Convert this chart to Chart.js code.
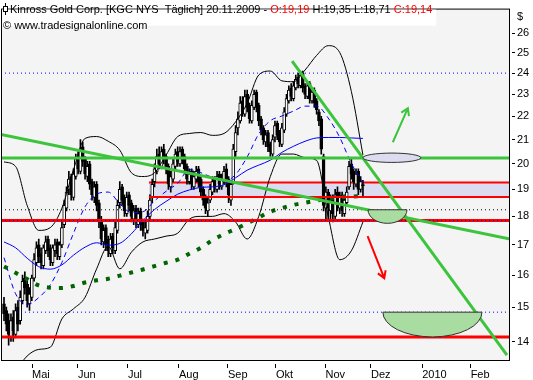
<!DOCTYPE html>
<html lang="de">
<head>
<meta charset="UTF-8">
<title>Kinross Gold Corp.</title>
<script src="https://cdn.jsdelivr.net/npm/chart.js"></script>
<style>
  body { margin: 0; background: #ffffff; }
  canvas { display: block; }
</style>
</head>
<body>
<canvas id="chart" width="533" height="380"></canvas>
<script>
// daily candles, mid April .. 20.11.2009
const opens = [
  15.1,14.9,14.6,14.1,14.7,14.2,15.0,14.6,15.2,15.9,
  15.7,15.1,15.3,15.9,16.4,17.0,16.7,16.3,16.8,17.2,
  16.9,16.4,16.8,17.1,16.6,17.0,17.7,18.3,19.0,19.5,
  18.7,19.5,20.3,19.7,20.7,20.2,19.5,20.0,19.3,18.7,
  19.2,18.5,17.9,17.1,17.6,17.2,16.7,17.3,16.8,17.5,
  18.5,19.1,18.7,18.1,18.8,18.5,17.9,18.3,17.7,18.2,
  17.8,17.4,17.5,18.0,18.7,19.3,19.7,20.4,19.9,20.6,
  20.3,19.9,19.1,19.4,19.9,20.5,20.0,20.6,20.3,19.9,
  19.3,19.7,19.1,19.4,19.8,19.4,19.0,18.7,18.2,18.6,
  18.9,19.4,19.0,19.6,19.1,19.3,19.8,19.4,18.6,19.3,
  20.5,21.5,21.8,22.7,22.1,23.0,22.5,21.8,22.4,23.1,
  22.5,21.9,21.5,20.9,21.3,20.8,20.4,21.1,21.7,21.3,
  20.8,21.4,22.1,22.7,23.3,22.8,23.3,23.8,23.4,24.0,
  23.4,22.9,23.5,22.7,23.2,22.7,22.2,21.9,20.3,18.3,
  18.9,18.2,18.7,18.0,18.9,18.3,18.8,18.1,18.5,19.1,
  20.0,19.7,19.2,19.7,19.0,19.19
];
const highs = [
  15.3,15.0,14.8,14.8,14.9,15.1,15.2,15.5,16.0,16.1,
  15.8,15.6,16.0,16.7,17.1,17.2,16.9,17.0,17.3,17.3,
  17.0,17.0,17.2,17.2,17.1,17.8,18.6,19.1,19.7,19.6,
  19.8,20.4,20.5,21.0,20.9,20.3,20.1,20.1,19.4,19.3,
  19.3,18.6,18.0,17.7,17.7,17.3,17.4,17.4,17.8,18.6,
  19.3,19.2,18.8,18.9,18.9,18.6,18.4,18.4,18.3,18.3,
  17.9,17.8,18.2,18.8,19.4,20.0,20.6,20.7,20.7,20.8,
  20.4,20.0,19.7,20.2,20.6,20.7,20.7,20.7,20.4,20.0,
  19.8,19.8,19.7,19.9,19.9,19.5,19.1,18.8,18.7,19.2,
  19.5,19.5,19.7,19.7,19.6,19.9,20.0,19.5,19.3,20.8,
  21.6,22.2,22.9,22.9,23.2,23.2,22.6,22.7,23.2,23.2,
  22.6,22.0,21.6,21.4,21.4,20.9,21.2,21.8,21.8,21.4,
  21.7,22.4,23.0,23.4,23.5,23.6,23.9,24.0,24.1,24.1,
  23.5,23.6,23.6,23.3,23.3,22.8,22.3,22.0,20.4,19.1,
  19.0,18.8,18.8,19.0,19.1,18.9,18.9,18.8,19.1,20.1,
  20.2,19.8,19.8,19.8,19.5,19.35
];
const lows = [
  14.6,14.3,13.9,14.0,14.0,14.1,14.3,14.5,15.1,15.4,
  15.0,14.9,15.2,15.8,16.3,16.4,16.2,16.2,16.7,16.6,
  16.3,16.3,16.6,16.5,16.5,16.9,17.6,18.2,18.8,18.6,
  18.6,19.4,19.6,19.6,19.9,19.4,19.3,19.0,18.6,18.5,
  18.2,17.6,17.0,16.9,16.8,16.6,16.6,16.7,16.7,17.4,
  18.3,18.4,18.0,18.0,18.2,17.8,17.7,17.6,17.6,17.5,
  17.3,17.2,17.4,17.9,18.5,19.1,19.6,19.8,19.8,20.0,
  19.6,19.0,18.9,19.3,19.8,19.9,19.9,20.0,19.6,19.2,
  19.2,19.0,19.0,19.3,19.1,18.7,18.4,18.1,18.0,18.5,
  18.8,18.9,18.9,19.0,19.0,19.2,19.1,18.5,18.4,19.2,
  20.3,21.2,21.7,22.0,22.0,22.2,21.7,21.7,22.3,22.2,
  21.6,21.2,20.8,20.7,20.5,20.3,20.3,20.9,21.0,20.7,
  20.7,21.3,22.0,22.6,22.7,22.7,23.2,23.3,23.3,23.1,
  22.8,22.8,22.6,22.6,22.4,22.1,21.6,20.4,18.2,17.9,
  17.9,17.9,17.8,17.9,18.2,18.1,18.0,18.0,18.4,19.0,
  19.4,19.0,19.1,18.8,18.9,18.71
];
const closes = [
  14.8,14.5,14.2,14.6,14.3,14.9,14.5,15.3,15.8,15.6,
  15.2,15.4,15.9,16.5,16.9,16.6,16.4,16.9,17.1,16.8,
  16.5,16.9,17.0,16.7,17.0,17.6,18.4,18.9,19.4,18.8,
  19.6,20.2,19.8,20.6,20.1,19.6,19.9,19.2,18.8,19.1,
  18.4,17.8,17.2,17.5,17.0,16.8,17.2,16.9,17.6,18.4,
  19.0,18.6,18.2,18.7,18.4,18.0,18.2,17.8,18.1,17.7,
  17.5,17.6,18.0,18.6,19.2,19.8,20.3,20.0,20.5,20.2,
  19.8,19.2,19.5,20.0,20.4,20.1,20.5,20.2,19.8,19.4,
  19.6,19.2,19.5,19.7,19.3,18.9,18.6,18.3,18.5,19.0,
  19.3,19.1,19.5,19.2,19.4,19.7,19.3,18.8,19.2,20.6,
  21.3,21.9,22.6,22.2,22.9,22.4,21.9,22.5,23.0,22.4,
  21.8,21.4,21.0,21.2,20.7,20.5,21.0,21.6,21.2,20.9,
  21.5,22.2,22.8,23.2,22.9,23.4,23.7,23.5,23.9,23.3,
  23.0,23.4,22.8,23.1,22.6,22.3,21.8,20.6,18.4,18.9,
  18.3,18.6,18.1,18.8,18.4,18.7,18.2,18.6,18.9,19.9,
  19.6,19.3,19.6,19.0,19.3,19.14
];

// indicator readings every 5 bars
const indPos = [0,5,10,15,20,25,30,35,40,45,50,55,60,65,70,75,80,85,90,95,100,105,110,115,120,125,130,135,140,145,150,155];
const bandUpper = [20.08,19.9,18.4,17.5,17.6,18.3,19.77,21.05,21.13,20.93,20.56,19.65,19.5,19.65,20.36,21.13,21.26,21.3,21.18,21.26,21.76,22.59,23.91,24.1,23.63,23.59,24.15,24.87,25.36,25.01,23.13,20.36];
const bandLower = [12.9,13.2,13.6,13.78,13.84,14.65,14.95,15.3,16.2,16.95,16.2,16.75,17.1,17.2,17.3,17.4,17.9,18.0,18.0,18.1,17.8,17.2,18.0,19.5,20.4,20.4,20.25,20.14,18.0,16.5,16.8,17.8];
const ma20 = [16.57,15.41,15.08,15.29,15.69,16.41,17.4,18.35,18.82,18.9,18.46,18.14,18.17,18.57,18.93,19.24,19.77,19.65,19.46,19.31,19.58,20.28,21.24,21.81,22.02,22.24,22.46,22.46,21.93,21.09,20.02,19.27];
const ma50 = [17.1,16.9,16.55,16.27,16.19,16.33,16.65,16.92,17.07,16.99,17.05,17.38,17.85,18.25,18.55,18.82,18.98,19.08,19.1,19.18,19.45,19.75,19.95,20.15,20.47,20.72,20.93,21.07,21.09,21.09,21.07,21.05];
const ma200 = [16.28,16.07,15.87,15.67,15.6,15.59,15.65,15.76,15.83,15.88,15.98,16.08,16.18,16.29,16.4,16.5,16.7,16.9,17.16,17.37,17.55,17.75,17.96,18.17,18.3,18.42,18.5,18.58,18.65,18.7,18.73,18.75];

// axes
const monthPos = [12.1, 31.95, 53.5, 75.55, 96.7, 117.45, 138.8, 158.45, 180.6, 201.5];
const monthLabels = ["Mai", "Jun", "Jul", "Aug", "Sep", "Okt", "Nov", "Dez", "2010", "Feb"];
const priceTicks = [14, 15, 16, 17, 18, 19, 20, 21, 22, 23, 24, 25, 26];
const X_MIN = -1.3, X_MAX = 218.5;

// drawn analysis
const supportLines = [17.85, 14.13];
const boxTop = 19.27, boxBottom = 18.71, boxStart = 62.6;
const resistance = 20.24;
const dottedBlack = 18.24;
const dottedBlue = [[-1.3, 24.0], [5.6, 14.85]];
const longTrend = [[-1.3, 21.22], [218.5, 17.2]];
const steepTrend = [[124.4, 24.58], [217.2, 13.62]];
const zones = [
  { from: 155.0, to: 180.0, top: 20.44, bottom: 20.06, half: false, fill: "#dcdcf0" },
  { from: 157.2, to: 174.0, top: 18.24, bottom: 17.75, half: true, fill: "#a8dca0" },
  { from: 163.6, to: 206.4, top: 14.85, bottom: 14.13, half: true, fill: "#a8dca0" },
];
const arrows = [
  { from: [167.9, 20.89], to: [174.4, 22.37], color: "#3cc43c" },
  { from: [157.0, 17.3], to: [164.2, 15.9], color: "#ff0000" },
];

const GREEN = "#3cc43c";
const RED = "#ff0000";

const idx = closes.map((c, i) => i);
const hline = (v, from) => [{ x: from, y: v }, { x: X_MAX, y: v }];
const series = (vals) => indPos.map((p, i) => ({ x: p, y: vals[i] }));
const seg = (pts) => pts.map((p) => ({ x: p[0], y: p[1] }));

const lineBase = { type: "line", pointRadius: 0, borderWidth: 1, fill: false };

const decor = {
  id: "decor",
  beforeDraw(chart) {
    const { ctx, chartArea: { left, top, right, bottom } } = chart;
    ctx.save();
    ctx.fillStyle = "#ffffff";
    ctx.fillRect(0, 0, chart.width, chart.height);
    ctx.fillStyle = "#f4f4f4";
    ctx.fillRect(left, top, right - left, bottom - top);
    ctx.restore();
  },
  afterDatasetsDraw(chart) {
    const { ctx, chartArea: a, scales: { x, y } } = chart;
    ctx.save();
    ctx.beginPath();
    ctx.rect(a.left, a.top, a.right - a.left, a.bottom - a.top);
    ctx.clip();
    zones.forEach((z) => {
      const x1 = x.getPixelForValue(z.from);
      const x2 = x.getPixelForValue(z.to);
      const yt = y.getPixelForValue(z.top);
      const yb = y.getPixelForValue(z.bottom);
      ctx.beginPath();
      if (z.half) {
        ctx.ellipse((x1 + x2) / 2, yt, (x2 - x1) / 2, yb - yt, 0, 0, Math.PI);
        ctx.closePath();
      } else {
        ctx.ellipse((x1 + x2) / 2, (yt + yb) / 2, (x2 - x1) / 2, (yb - yt) / 2, 0, 0, Math.PI * 2);
      }
      ctx.fillStyle = z.fill;
      ctx.fill();
      ctx.strokeStyle = "#333333";
      ctx.lineWidth = 1;
      ctx.stroke();
    });
    arrows.forEach((ar) => {
      const x0 = x.getPixelForValue(ar.from[0]), y0 = y.getPixelForValue(ar.from[1]);
      const x1 = x.getPixelForValue(ar.to[0]), y1 = y.getPixelForValue(ar.to[1]);
      const ang = Math.atan2(y1 - y0, x1 - x0);
      ctx.strokeStyle = ar.color;
      ctx.lineWidth = 2;
      ctx.beginPath();
      ctx.moveTo(x0, y0);
      ctx.lineTo(x1, y1);
      ctx.moveTo(x1 - 8 * Math.cos(ang - 0.55), y1 - 8 * Math.sin(ang - 0.55));
      ctx.lineTo(x1, y1);
      ctx.lineTo(x1 - 8 * Math.cos(ang + 0.55), y1 - 8 * Math.sin(ang + 0.55));
      ctx.stroke();
    });
    ctx.restore();
  },
  afterDraw(chart) {
    const { ctx, chartArea: { left, top, right, bottom } } = chart;
    ctx.save();
    ctx.strokeStyle = "#000000";
    ctx.lineWidth = 1;
    ctx.strokeRect(left + 0.5, top + 0.5, right - left - 1, bottom - top);

    // title line
    const parts = [
      ["Kinross Gold Corp. [KGC NYS  Täglich] 20.11.2009 - ", "#000000"],
      ["O:19,19", RED],
      [" H:19,35 L:18,71 ", "#000000"],
      ["C:19,14", RED],
    ];
    ctx.font = '11px "Liberation Sans"';
    const w = parts.reduce((s, p) => s + ctx.measureText(p[0]).width, 0);
    ctx.fillStyle = "#ffffff";
    ctx.fillRect(left + 1, top + 1, w + 12, 16);
    let tx = 10;
    ctx.textBaseline = "alphabetic";
    parts.forEach(([t, c]) => {
      ctx.fillStyle = c;
      ctx.fillText(t, tx, 13);
      tx += ctx.measureText(t).width;
    });
    ctx.fillStyle = "#000000";
    ctx.fillText("© www.tradesignalonline.com", 3, 29);
    // small candle icon
    ctx.beginPath();
    ctx.moveTo(5.5, 3);
    ctx.lineTo(5.5, 15);
    ctx.stroke();
    ctx.fillStyle = "#ffffff";
    ctx.fillRect(3.5, 6.5, 4, 5);
    ctx.strokeRect(3.5, 6.5, 4, 5);
    ctx.restore();
  },
};

Chart.defaults.font.family = '"Liberation Sans"';
Chart.defaults.font.size = 11;
Chart.defaults.color = "#000000";

new Chart(document.getElementById("chart"), {
  type: "bar",
  data: {
    datasets: [
      // price box
      { ...lineBase, data: hline(boxTop, boxStart), borderColor: RED, borderWidth: 2,
        fill: { value: boxBottom }, backgroundColor: "#dcdcf0", order: 20 },
      // candles
      { data: idx.map((i) => ({ x: i, y: [lows[i], highs[i]] })), backgroundColor: "#000000",
        barThickness: 1, grouped: false, order: 12 },
      { data: idx.map((i) => ({ x: i, y: [opens[i], closes[i]] })),
        backgroundColor: idx.map((i) => (closes[i] >= opens[i] ? "#ffffff" : "#000000")),
        borderColor: "#000000", borderWidth: 1, borderSkipped: false,
        barThickness: 3, grouped: false, order: 11 },
      // bands and averages
      { ...lineBase, data: series(bandUpper), borderColor: "#000000", cubicInterpolationMode: "monotone", order: 9 },
      { ...lineBase, data: series(bandLower), borderColor: "#000000", cubicInterpolationMode: "monotone", order: 9 },
      { ...lineBase, data: series(ma50), borderColor: "#0000ff", cubicInterpolationMode: "monotone", order: 8 },
      { ...lineBase, data: series(ma20), borderColor: "#0000ff", borderDash: [5, 4], cubicInterpolationMode: "monotone", order: 8 },
      { ...lineBase, data: series(ma200), borderColor: "#006400", borderWidth: 4, borderDash: [4, 8], cubicInterpolationMode: "monotone", order: 7 },
      // levels
      { ...lineBase, data: hline(boxBottom, boxStart), borderColor: RED, borderWidth: 2, order: 6 },
      { ...lineBase, data: hline(supportLines[0], X_MIN), borderColor: RED, borderWidth: 3, order: 6 },
      { ...lineBase, data: hline(supportLines[0], X_MIN), borderColor: "#0000ff", borderDash: [1, 3], order: 5 },
      { ...lineBase, data: hline(supportLines[1], X_MIN), borderColor: RED, borderWidth: 3, order: 6 },
      { ...lineBase, data: hline(dottedBlack, X_MIN), borderColor: "#000000", borderDash: [1, 3], order: 6 },
      { ...lineBase, data: hline(dottedBlue[0][1], dottedBlue[0][0]), borderColor: "#0000ff", borderDash: [1, 3], order: 6 },
      { ...lineBase, data: hline(dottedBlue[1][1], dottedBlue[1][0]), borderColor: "#0000ff", borderDash: [1, 3], order: 6 },
      { ...lineBase, data: hline(resistance, X_MIN), borderColor: GREEN, borderWidth: 3, order: 4 },
      { ...lineBase, data: seg(longTrend), borderColor: GREEN, borderWidth: 3, order: 4 },
      { ...lineBase, data: seg(steepTrend), borderColor: GREEN, borderWidth: 3, order: 4 },
    ],
  },
  options: {
    responsive: false,
    animation: false,
    events: [],
    layout: { padding: { left: 1, top: 0, right: 0, bottom: 0 } },
    plugins: { legend: { display: false }, tooltip: { enabled: false } },
    scales: {
      x: {
        type: "linear",
        min: X_MIN,
        max: X_MAX,
        offset: false,
        border: { display: false },
        grid: { offset: false, drawOnChartArea: false, tickLength: 8, tickColor: "#000000", tickBorderDash: [0, 4, 4] },
        ticks: { autoSkip: false, maxRotation: 0, align: "start", padding: 0, callback: (v, i) => monthLabels[i] },
        afterBuildTicks: (axis) => { axis.ticks = monthPos.map((v) => ({ value: v })); },
        afterFit: (axis) => { axis.height = 20; },
      },
      y: {
        type: "logarithmic",
        position: "right",
        min: 13.49,
        max: 27.32,
        border: { display: false },
        grid: {
          drawOnChartArea: false, tickLength: 5, tickBorderDash: [0, 2, 3],
          tickColor: (c) => (c.index === priceTicks.length ? "rgba(0,0,0,0)" : "#000000"),
        },
        ticks: { padding: 2, callback: (v, i) => (i === priceTicks.length ? "$" : String(v)) },
        afterBuildTicks: (axis) => { axis.ticks = [...priceTicks, 26.85].map((v) => ({ value: v })); },
        afterFit: (axis) => { axis.width = 23; },
      },
    },
  },
  plugins: [decor],
});
</script>
</body>
</html>
